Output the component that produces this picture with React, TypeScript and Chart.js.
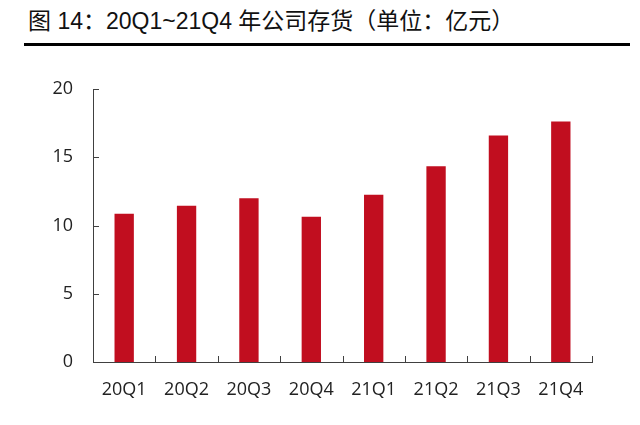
import React, { useEffect, useRef } from 'react';
import { Chart, registerables } from 'chart.js';

Chart.register(...registerables);

// 20Q1~21Q4 inventory, 100 million yuan
const quarters = ['20Q1', '20Q2', '20Q3', '20Q4', '21Q1', '21Q2', '21Q3', '21Q4'];
const inventory = [10.86, 11.45, 12.0, 10.64, 12.26, 14.34, 16.6, 17.62];
const yTicks = [0, 5, 10, 15, 20];

const titleText = '图 14：20Q1~21Q4 年公司存货（单位：亿元）';
const axisColor = '#404040';

// short inward tick marks, as in the original figure
const innerTicks = {
  id: 'innerTicks',
  afterDraw(chart: Chart) {
    const { ctx } = chart;
    const x = chart.scales.x;
    const y = chart.scales.y;
    ctx.save();
    ctx.strokeStyle = axisColor;
    ctx.lineWidth = 1;
    ctx.beginPath();
    yTicks.forEach((v) => {
      const py = Math.round(y.getPixelForValue(v)) + 0.5;
      ctx.moveTo(y.right, py);
      ctx.lineTo(y.right + 6, py);
    });
    for (let i = 0; i <= quarters.length; i++) {
      const px = Math.round(x.getPixelForValue(i - 0.5)) + 0.5;
      ctx.moveTo(px, x.top);
      ctx.lineTo(px, x.top - 6);
    }
    ctx.stroke();
    ctx.restore();
  },
};

const App: React.FC = () => {
  const canvasRef = useRef<HTMLCanvasElement>(null);
  const chartRef = useRef<Chart | null>(null);

  useEffect(() => {
    if (!canvasRef.current) return;
    if (chartRef.current) chartRef.current.destroy();

    chartRef.current = new Chart(canvasRef.current, {
      type: 'bar',
      data: {
        labels: quarters,
        datasets: [
          {
            label: '存货',
            data: inventory,
            backgroundColor: '#C10E1F',
            barPercentage: 0.31,
            categoryPercentage: 1,
          },
        ],
      },
      options: {
        responsive: false,
        animation: false,
        devicePixelRatio: 1,
        layout: { padding: { top: 89, right: 48, left: 0, bottom: 0 } },
        plugins: {
          legend: { display: false },
          tooltip: { enabled: false },
        },
        scales: {
          x: {
            grid: { display: false, drawTicks: false },
            border: { display: true, color: axisColor, width: 1 },
            ticks: {
              color: '#222',
              padding: 17,
              font: { family: 'Open Sans', size: 18 },
            },
            afterFit: (scale: any) => {
              scale.height = 63;
            },
          },
          y: {
            min: 0,
            max: 20,
            afterBuildTicks: (scale: any) => {
              scale.ticks = yTicks.map((v) => ({ value: v }));
            },
            grid: { display: false, drawTicks: false },
            border: { display: true, color: axisColor, width: 1 },
            ticks: {
              color: '#222',
              padding: 20,
              font: { family: 'Open Sans', size: 18 },
            },
            afterFit: (scale: any) => {
              scale.width = 93;
            },
          },
        },
      },
      plugins: [innerTicks],
    });

    return () => {
      if (chartRef.current) {
        chartRef.current.destroy();
        chartRef.current = null;
      }
    };
  }, []);

  return (
    <div
      style={{
        position: 'fixed',
        left: 0,
        top: 0,
        width: 640,
        height: 425,
        background: '#fff',
        overflow: 'hidden',
      }}
    >
      <div
        style={{
          position: 'absolute',
          left: 28,
          top: 10,
          fontSize: 23,
          lineHeight: '23px',
          color: '#111',
          whiteSpace: 'nowrap',
          fontFamily: '"Liberation Sans", "Noto Sans CJK SC", sans-serif',
        }}
      >
        {titleText}
      </div>
      <div
        style={{
          position: 'absolute',
          left: 24,
          top: 43,
          width: 606,
          height: 3,
          background: '#000',
        }}
      />
      <canvas
        ref={canvasRef}
        width={640}
        height={425}
        style={{ position: 'absolute', left: 0, top: 0 }}
      />
    </div>
  );
};

export default App;
